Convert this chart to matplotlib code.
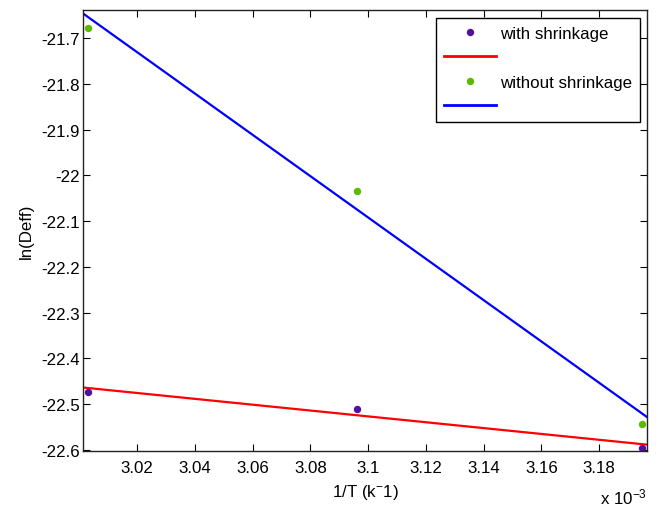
import matplotlib
matplotlib.use("Agg")
import matplotlib.pyplot as plt
from matplotlib.lines import Line2D

plt.rcParams['font.family'] = ['Liberation Sans', 'DejaVu Sans']
plt.rcParams['mathtext.fontset'] = 'custom'
plt.rcParams['mathtext.rm'] = 'Liberation Sans'
plt.rcParams['mathtext.it'] = 'Liberation Sans'

# Data (x in units of 1e-3 K^-1)
inv_T = [3.003, 3.096, 3.195]
with_shrink = [-22.473, -22.512, -22.596]
without_shrink = [-21.678, -22.034, -22.544]
fit_x = [3.0013, 3.1967]
fit_with = [-22.464, -22.589]
fit_without = [-21.646, -22.529]
xticks = [3.02, 3.04, 3.06, 3.08, 3.10, 3.12, 3.14, 3.16, 3.18]
xticklabels = ['3.02', '3.04', '3.06', '3.08', '3.1', '3.12', '3.14', '3.16', '3.18']
yticks = [-21.7, -21.8, -21.9, -22.0, -22.1, -22.2, -22.3, -22.4, -22.5, -22.6]
yticklabels = ['-21.7', '-21.8', '-21.9', '-22', '-22.1', '-22.2', '-22.3', '-22.4', '-22.5', '-22.6']

purple = '#5010a0'
green = '#5cb800'
FS = 12.2

fig = plt.figure(figsize=(6.58, 5.06), dpi=100)
ax = fig.add_axes([83.3/658, 1-452.3/506, (647.3-83.3)/658, (452.3-11)/506])

ax.plot(fit_x, fit_with, color='#ff0000', lw=1.6)
ax.plot(fit_x, fit_without, color='#0000ff', lw=1.6)
ax.plot(inv_T, with_shrink, 'o', color=purple, ms=4.3, ls='none')
ax.plot(inv_T, without_shrink, 'o', color=green, ms=4.3, ls='none')

ax.set_xlim(fit_x[0], fit_x[1])
ax.set_ylim(-22.6035, -21.638)
ax.set_xticks(xticks)
ax.set_xticklabels(xticklabels)
ax.set_yticks(yticks)
ax.set_yticklabels(yticklabels)
ax.tick_params(direction='in', top=True, right=True, length=5, width=0.8,
               labelsize=FS, colors='black')
ax.tick_params(axis='x', pad=6)
ax.tick_params(axis='y', pad=2.5)
for s in ax.spines.values():
    s.set_linewidth(1.0)
    s.set_color('#222222')

ax.set_xlabel('1/T (k$^{-}$1)', fontsize=FS, labelpad=5)
ax.set_ylabel('ln(Deff)', fontsize=FS, labelpad=5)
fig.text(647.3/658, 1-497/506, 'x 10$^{-3}$', ha='right', va='center', fontsize=FS)

handles = [
    Line2D([], [], marker='o', color=purple, ms=4.3, ls='none'),
    Line2D([], [], color='#ff0000', lw=2),
    Line2D([], [], marker='o', color=green, ms=4.3, ls='none'),
    Line2D([], [], color='#0000ff', lw=2),
]
labels = ['with shrinkage', ' ', 'without shrinkage', ' ']
leg = ax.legend(handles, labels, loc='upper right', bbox_to_anchor=(640/658, 1-19.3/506),
                bbox_transform=fig.transFigure, fontsize=FS, fancybox=False,
                framealpha=1, edgecolor='black', handlelength=3.07, handletextpad=0.25,
                labelspacing=0.56, borderaxespad=0, borderpad=0.45)
leg.get_frame().set_linewidth(1.0)

fig.savefig('out.png', dpi=100)
